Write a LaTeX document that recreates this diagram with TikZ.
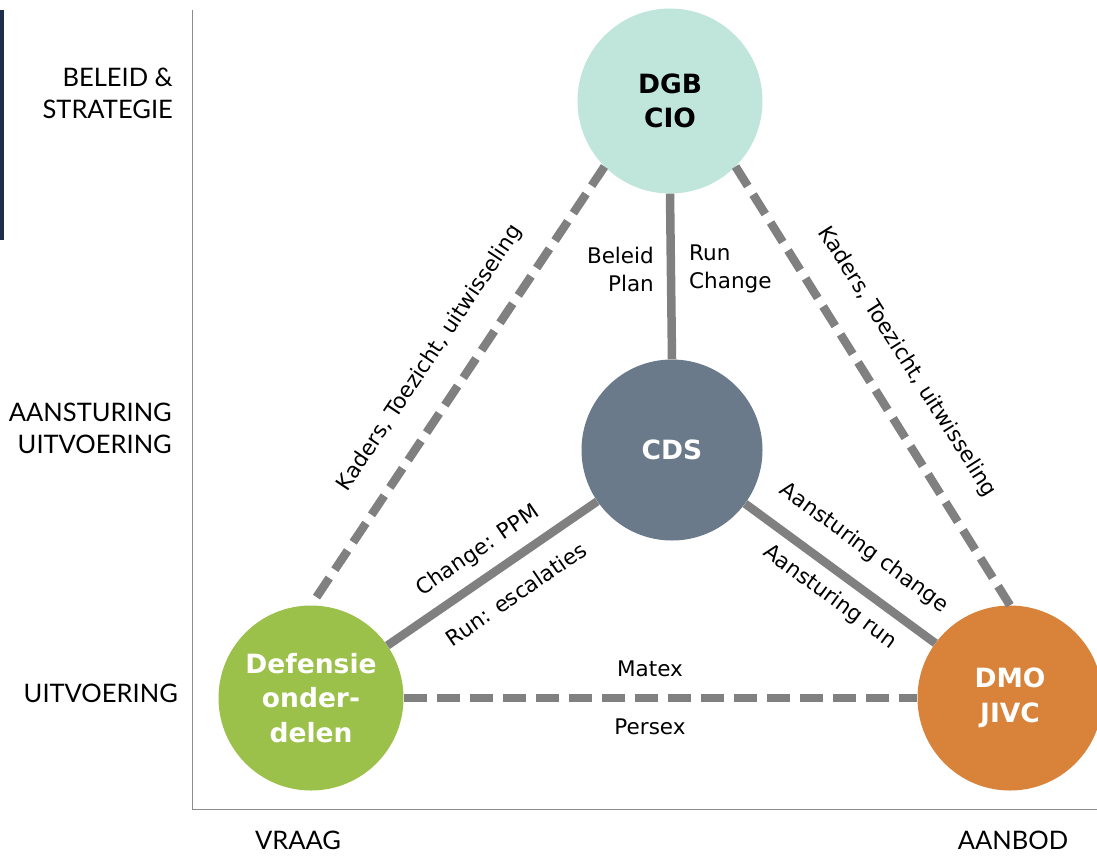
\documentclass[tikz,border=0pt]{standalone}
\usepackage{fontspec}
\setmainfont{DejaVu Sans}
\newfontfamily\axisfam{Lato}
\definecolor{mint}{HTML}{C0E6DC}
\definecolor{slate}{HTML}{6A7A8B}
\definecolor{leaf}{HTML}{9BC14B}
\definecolor{amber}{HTML}{D8823A}
\definecolor{linegray}{HTML}{808080}
\definecolor{axisgray}{HTML}{8C8C8C}
\definecolor{navybar}{HTML}{1F2D4A}
\newcommand{\bubfont}{\fontsize{26.5}{34.5}\selectfont\bfseries}
\newcommand{\lblfont}{\fontsize{21.5}{28}\selectfont}
\newcommand{\axfont}{\axisfam\fontsize{25.5}{32}\selectfont}
\begin{document}
\begin{tikzpicture}[x=1pt,y=-1pt,
  conn/.style={draw=linegray, line width=8.5pt},
  dashconn/.style={conn, dash pattern=on 23pt off 10pt},
  bubble/.style={circle, minimum size=185pt, inner sep=0pt, align=center, font=\bubfont},
  lbl/.style={font=\lblfont, inner sep=0pt},
  axl/.style={font=\axfont, inner sep=0pt, align=right}]
\useasboundingbox (0,0) rectangle (1097,855);
\fill[white] (0,0) rectangle (1097,855);
\fill[navybar] (0,10) rectangle (4,240);
\draw[axisgray, line width=1.5pt] (192.5,10) -- (192.5,809.5) -- (1097,809.5);

% bubbles
\node[bubble, fill=mint, text=black] (dgb) at (670,101) {DGB\\CIO};
\node[bubble, fill=slate, text=white, minimum size=181pt] (cds) at (672,450) {CDS};
\node[bubble, fill=leaf, text=white] (def) at (311,698) {Defensie\\onder-\\delen};
\node[bubble, fill=amber, text=white] (dmo) at (1010,698) {DMO\\JIVC};

% connectors
\draw[conn] (dgb.south) -- (cds.north);
\draw[conn] (cds) -- (def);
\draw[conn] (cds) -- (dmo);
\draw[dashconn] (dgb.-135) -- (def.north);
\draw[dashconn] (dgb.-45) -- (dmo.north);
\draw[dashconn] (def.east) -- (dmo.west);

% connector labels
\node[lbl, anchor=east, align=right] (bp) at (654,269) {Beleid\\Plan};
\node[lbl, anchor=west, align=left] (rc) at (689,269) {Run\\Change};
\node[lbl, rotate=34.5] (cppm) at (478,551) {Change: PPM};
\node[lbl, rotate=34.5] (resc) at (516,594) {Run: escalaties};
\node[lbl, rotate=-36.3] (ach) at (864,548) {Aansturing change};
\node[lbl, rotate=-36.3] (arun) at (830,597) {Aansturing run};
\node[lbl, rotate=56.2] (ktl) at (430,358) {Kaders, Toezicht, uitwisseling};
\node[lbl, rotate=-57.7] (ktr) at (907,362) {Kaders, Toezicht, uitwisseling};
\node[lbl] (matex) at (650,669) {Matex};
\node[lbl] (persex) at (650,727) {Persex};

% axis labels
\node[axl, anchor=east] (bs) at (173,93) {BELEID \&\\STRATEGIE};
\node[axl, anchor=east] (au) at (172,428) {AANSTURING\\UITVOERING};
\node[axl, anchor=east] (uv) at (178,693) {UITVOERING};
\node[axl] (vraag) at (298,840) {VRAAG};
\node[axl] (aanbod) at (1013,840) {AANBOD};
\end{tikzpicture}
\end{document}
